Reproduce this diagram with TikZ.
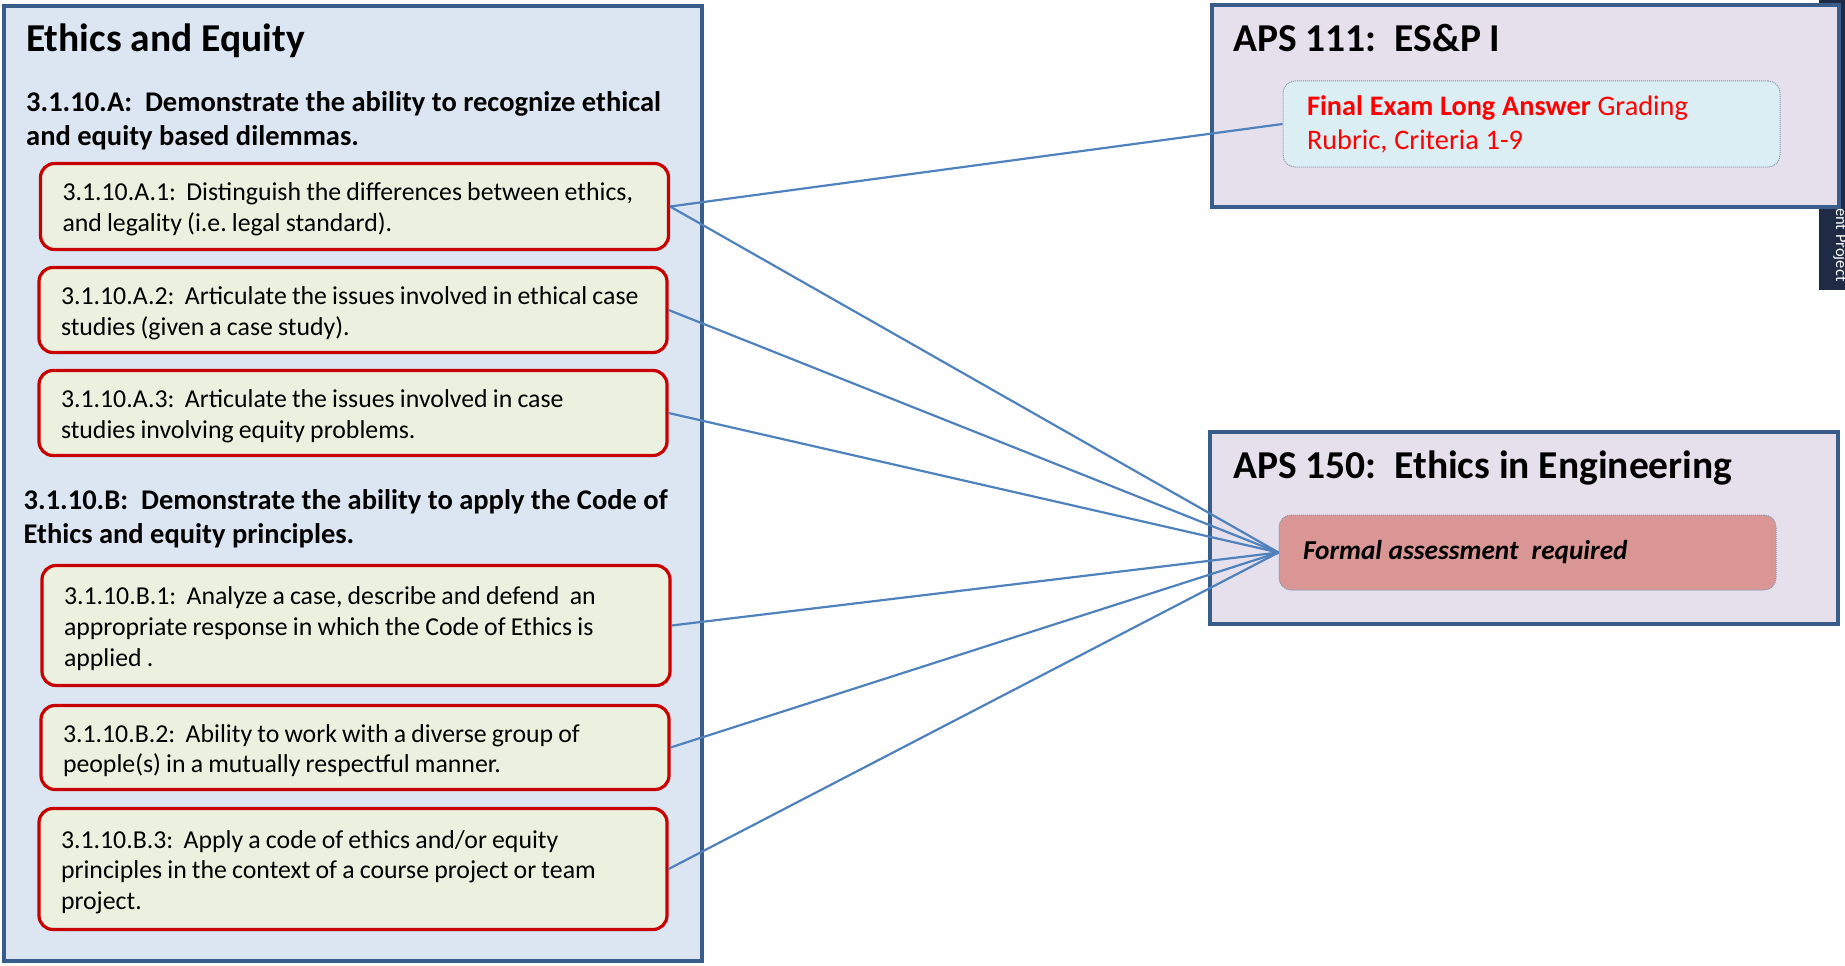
\documentclass[tikz,border=0pt]{standalone}
\usepackage{fontspec}
\setmainfont{Carlito}
\newfontfamily\outcomefont{Carlito}
\DeclareRobustCommand\outcomestart{\spaceskip=0.2em\xspaceskip=0.2em\relax\rule{0pt}{24pt}}
\DeclareRobustCommand\assessstart{\spaceskip=0.24em\xspaceskip=0.24em\relax}
\frenchspacing

\definecolor{frameblue}{HTML}{385D8A}
\definecolor{leftfill}{HTML}{DCE6F2}
\definecolor{lavender}{HTML}{E5E0EC}
\definecolor{outred}{HTML}{C80000}
\definecolor{outfill}{HTML}{EBF1DE}
\definecolor{cyanfill}{HTML}{DAEEF3}
\definecolor{pinkfill}{HTML}{D99694}
\definecolor{dotgray}{HTML}{8497B0}
\definecolor{linkblue}{HTML}{4F81BD}
\definecolor{stripnavy}{HTML}{1F2B45}
\definecolor{examred}{HTML}{FF0000}

\begin{document}
\begin{tikzpicture}[x=1pt,y=-1pt,
  outerframe/.style={draw=frameblue,line width=3.8pt},
  outcome/.style={draw=outred,fill=outfill,line width=3.2pt,rounded corners=14pt,
    minimum width=628pt,text width=584pt,inner xsep=22pt,align=left,
    font=\outcomefont\fontsize{25.8}{30.6}\selectfont,
    execute at begin node=\outcomestart},
  assess/.style={draw=dotgray,densely dotted,line width=1pt,rounded corners=12pt,
    minimum width=497pt,text width=449pt,inner xsep=24pt,align=left,
    execute at begin node=\assessstart},
  link/.style={draw=linkblue,line width=2.2pt},
  boxtitle/.style={anchor=base west,inner sep=0pt,font=\fontsize{39.5}{48}\selectfont\bfseries},
  goal/.style={anchor=base west,inner sep=0pt,align=left,font=\fontsize{28.5}{34}\selectfont\bfseries}]

  \useasboundingbox (0,0) rectangle (1845,966);

  % strip behind the top right box
  \fill[stripnavy] (1819,0) rectangle (1845,290);
  \node[rotate=-90,anchor=base west,inner sep=0pt,text=white,font=\fontsize{16.5}{20}\selectfont] (stripnote) at (1836,208) {ent Project};

  % left column (goal nodes sit on the baseline of their last line)
  \draw[outerframe,fill=leftfill] (4,6) rectangle (702,961);
  \node[boxtitle] (ethicstitle) at (26,52) {Ethics and Equity};
  \node[goal] (goalA) at (26,145) {3.1.10.A:\ \ Demonstrate the ability to recognize ethical\\and equity based dilemmas.};

  \node[outcome,minimum height=86pt] (outA1) at (354.5,206.5) {3.1.10.A.1:\ \ Distinguish the differences between ethics,\\and legality (i.e. legal standard).};
  \node[outcome,minimum height=85pt] (outA2) at (353,310) {3.1.10.A.2:\ \ Articulate the issues involved in ethical case\\studies (given a case study).};
  \node[outcome,minimum height=85pt] (outA3) at (353,413) {3.1.10.A.3:\ \ Articulate the issues involved in case\\studies involving equity problems.};

  \node[goal] (goalB) at (23.5,543) {3.1.10.B:\ \ Demonstrate the ability to apply the Code of\\Ethics and equity principles.};

  \node[outcome,minimum height=120pt] (outB1) at (356,625.5) {3.1.10.B.1:\ \ Analyze a case, describe and defend\ \ an\\appropriate response in which the Code of Ethics is\\applied .};
  \node[outcome,minimum height=84pt] (outB2) at (355,747.5) {3.1.10.B.2:\ \ Ability to work with a diverse group of\\people(s) in a mutually respectful manner.};
  \node[outcome,minimum height=121pt] (outB3) at (353,869) {3.1.10.B.3:\ \ Apply a code of ethics and/or equity\\principles in the context of a course project or team\\project.};

  % right column
  \draw[outerframe,fill=lavender] (1212,5) rectangle (1839,207);
  \node[boxtitle] (aps111) at (1233,52) {APS 111:\ \ ES\&P I};
  \node[assess,fill=cyanfill,minimum height=86pt,text=examred,font=\fontsize{28.3}{34}\selectfont] (exam) at (1531.5,124) {\textbf{Final Exam Long Answer} Grading\\Rubric, Criteria 1-9};

  \draw[outerframe,fill=lavender] (1210,432) rectangle (1838,624);
  \node[boxtitle] (aps150) at (1233,478) {APS 150:\ \ Ethics in Engineering};
  \node[assess,fill=pinkfill,minimum height=75pt,font=\fontsize{27.3}{33}\selectfont\bfseries\itshape] (formal) at (1527.5,552.5) {Formal assessment\ \ required};

  % links
  \draw[link] (outA1.east) -- (exam.west);
  \foreach \src in {outA1,outA2,outA3,outB1,outB2,outB3}
    \draw[link] (\src.east) -- (formal.west);

\end{tikzpicture}
\end{document}
